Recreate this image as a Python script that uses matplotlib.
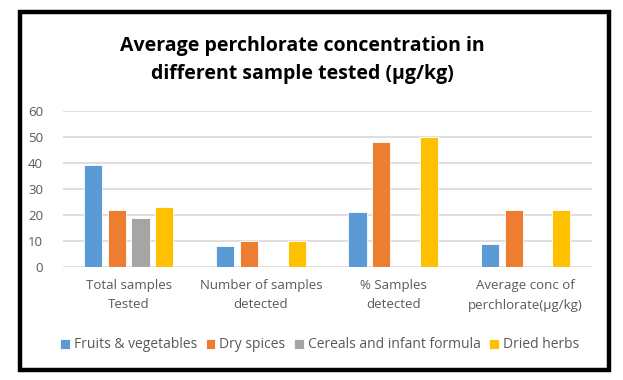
import matplotlib
matplotlib.use("Agg")
import matplotlib.pyplot as plt
from matplotlib.patches import Rectangle
import numpy as np

categories = ["Total samples\nTested", "Number of samples\ndetected",
              "% Samples\ndetected", "Average conc of\nperchlorate(\u00b5g/kg)"]
series_names = ["Fruits & vegetables", "Dry spices",
                "Cereals and infant formula", "Dried herbs"]
fruits_veg = [39, 8, 21, 9]
dry_spices = [22, 10, 48, 22]
cereals = [19, 0, 0, 0]
dried_herbs = [23, 10, 50, 22]
yticks = [0, 10, 20, 30, 40, 50, 60]
colors = ["#5B9BD5", "#ED7D31", "#A5A5A5", "#FFC000"]

plt.rcParams['font.family'] = ['Open Sans', 'DejaVu Sans']

fig = plt.figure(figsize=(6.23, 3.80), dpi=100)
W, H = 623, 380

# outer black frame
fig.patches.append(Rectangle((20 / W, 1 - 370 / H), (609 - 20) / W, (370 - 12) / H,
                             transform=fig.transFigure, fill=False,
                             edgecolor="black", linewidth=3.2, zorder=10))

ax = fig.add_axes([62.5 / W, 1 - 267 / H, (591.7 - 62.5) / W, (267 - 110.7) / H])

x = np.arange(len(categories))
pitch = 0.18
width = 0.137
all_series = [fruits_veg, dry_spices, cereals, dried_herbs]
for i, (vals, name, c) in enumerate(zip(all_series, series_names, colors)):
    offs = (i - 1.5) * pitch
    ax.bar(x + offs, vals, width=width, color=c, label=name, zorder=3,
           edgecolor="white", linewidth=0.6)

ax.set_xlim(-0.5, len(categories) - 0.5)
ax.set_ylim(0, 60)
ax.set_yticks(yticks)
ax.grid(axis="y", color="#D9D9D9", linewidth=1.2, zorder=0)
for s in ax.spines.values():
    s.set_visible(False)
ax.tick_params(axis="both", length=0, colors="#595959", labelsize=9.5)
ax.tick_params(axis="y", pad=14)
ax.tick_params(axis="x", pad=9)
ax.set_xticks(x)
ax.set_xticklabels(categories, color="#595959", linespacing=1.6)

fig.text(0.485, 1 - 60 / H, "Average perchlorate concentration in\ndifferent sample tested (\u00b5g/kg)",
         ha="center", va="center", fontsize=14, fontweight="bold", color="black",
         linespacing=1.6)

leg = fig.legend(*ax.get_legend_handles_labels(), loc="center",
                 bbox_to_anchor=(0.513, 1 - 345 / H), ncol=4, frameon=False,
                 fontsize=10, handlelength=0.7, handleheight=0.7,
                 handletextpad=0.3, columnspacing=0.6, labelcolor="#595959")

fig.savefig("out.png", dpi=100)
